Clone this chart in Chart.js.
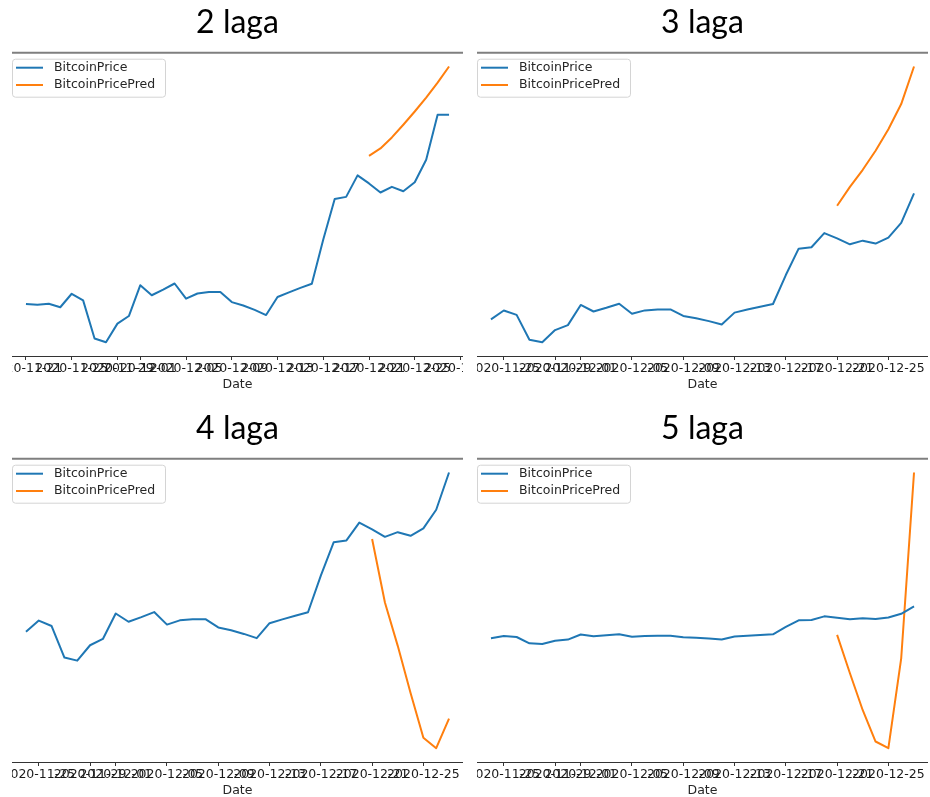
<!DOCTYPE html>
<html>
<head>
<meta charset="utf-8">
<script src="https://cdn.jsdelivr.net/npm/chart.js@4.4.1/dist/chart.umd.min.js"></script>
<style>
html, body { margin: 0; padding: 0; background: #fff; overflow: hidden; }
.panel { position: absolute; width: 451px; height: 392px; }
</style>
</head>
<body>
<div class="panel" style="left:12px;top:0px"><canvas id="lag2"></canvas></div>
<div class="panel" style="left:477px;top:0px"><canvas id="lag3"></canvas></div>
<div class="panel" style="left:12px;top:406px"><canvas id="lag4"></canvas></div>
<div class="panel" style="left:477px;top:406px"><canvas id="lag5"></canvas></div>
<script>
const dates = [
    '2020-11-21', '2020-11-22', '2020-11-23', '2020-11-24', '2020-11-25', '2020-11-26',
    '2020-11-27', '2020-11-28', '2020-11-29', '2020-11-30', '2020-12-01', '2020-12-02',
    '2020-12-03', '2020-12-04', '2020-12-05', '2020-12-06', '2020-12-07', '2020-12-08',
    '2020-12-09', '2020-12-10', '2020-12-11', '2020-12-12', '2020-12-13', '2020-12-14',
    '2020-12-15', '2020-12-16', '2020-12-17', '2020-12-18', '2020-12-19', '2020-12-20',
    '2020-12-21', '2020-12-22', '2020-12-23', '2020-12-24', '2020-12-25', '2020-12-26',
    '2020-12-27', '2020-12-28'
];
const bitcoinPrice = [
    18560, 18530, 18570, 18430, 18980, 18710,
    17150, 17000, 17760, 18070, 19330, 18920,
    19150, 19400, 18780, 18990, 19050, 19050,
    18640, 18500, 18320, 18110, 18850, 19040,
    19220, 19390, 21200, 22850, 22940, 23820,
    23490, 23120, 23350, 23170, 23540, 24460,
    26300, 26300
];

const predDates = ['2020-12-21', '2020-12-22', '2020-12-23', '2020-12-24', '2020-12-25', '2020-12-26', '2020-12-27', '2020-12-28'];
const pred2 = [24620, 24920, 25370, 25890, 26430, 27000, 27610, 28270];
const pred3 = [25530, 26710, 27780, 28970, 30320, 31890, 34240];
const pred4 = [23010, 19870, 17730, 15400, 13190, 12670, 14130];
const pred5 = [19230, 9730, 580, -7160, -8820, 13440, 59440];

const ticks2 = ['2020-11-21', '2020-11-25', '2020-11-29', '2020-12-01', '2020-12-05', '2020-12-09',
    '2020-12-13', '2020-12-17', '2020-12-21', '2020-12-25', '2020-12-29'];
const ticksRest = ['2020-11-25', '2020-11-29', '2020-12-01', '2020-12-05', '2020-12-09',
    '2020-12-13', '2020-12-17', '2020-12-21', '2020-12-25'];

const BLUE = '#1f77b4';
const ORANGE = '#ff7f0e';

Chart.defaults.font.family = '"DejaVu Sans", sans-serif';
Chart.defaults.color = '#262626';

function dayOffset(d, start) {
    return (Date.parse(d) - Date.parse(start)) / 86400000;
}

// grey line across the top of the axes
const topSpine = {
    id: 'topSpine',
    afterDraw(chart) {
        const a = chart.chartArea;
        const ctx = chart.ctx;
        ctx.save();
        ctx.strokeStyle = '#7f7f7f';
        ctx.lineWidth = 2;
        ctx.beginPath();
        ctx.moveTo(a.left, a.top);
        ctx.lineTo(a.right, a.top);
        ctx.stroke();
        ctx.restore();
    }
};

// matplotlib style legend inside the axes, upper left
const boxLegend = {
    id: 'boxLegend',
    afterDraw(chart) {
        const a = chart.chartArea;
        const ctx = chart.ctx;
        ctx.save();
        ctx.fillStyle = 'rgba(255,255,255,0.85)';
        ctx.strokeStyle = '#d4d4d4';
        ctx.lineWidth = 1;
        ctx.beginPath();
        ctx.roundRect(a.left + 0.5, a.top + 6.5, 153, 38, 3);
        ctx.fill();
        ctx.stroke();
        ctx.font = '12.5px "DejaVu Sans"';
        ctx.textBaseline = 'middle';
        chart.data.datasets.forEach((ds, i) => {
            const ly = a.top + 15 + i * 17.3;
            ctx.strokeStyle = ds.borderColor;
            ctx.lineWidth = 2;
            ctx.beginPath();
            ctx.moveTo(a.left + 4, ly);
            ctx.lineTo(a.left + 31, ly);
            ctx.stroke();
            ctx.fillStyle = '#262626';
            ctx.fillText(ds.label, a.left + 42, ly);
        });
        ctx.restore();
    }
};

function construirGrafico(id, titulo, priceDates, prices, preds, tickLabels, margin) {
    const start = priceDates[0];
    const last = dayOffset(priceDates[priceDates.length - 1], start);
    const tickVals = tickLabels.map(d => dayOffset(d, start));

    new Chart(document.getElementById(id), {
        type: 'line',
        data: {
            datasets: [{
                label: 'BitcoinPrice',
                data: prices.map((v, i) => ({ x: dayOffset(priceDates[i], start), y: v })),
                borderColor: BLUE,
                borderWidth: 2,
                pointRadius: 0,
                tension: 0,
                borderJoinStyle: 'round'
            }, {
                label: 'BitcoinPricePred',
                data: preds.map((v, i) => ({ x: dayOffset(predDates[i], start), y: v })),
                borderColor: ORANGE,
                borderWidth: 2,
                pointRadius: 0,
                tension: 0,
                borderJoinStyle: 'round'
            }]
        },
        options: {
            responsive: true,
            maintainAspectRatio: false,
            animation: false,
            layout: { padding: 0, autoPadding: false },
            plugins: {
                legend: { display: false },
                tooltip: { enabled: false },
                title: {
                    display: true,
                    text: titulo,
                    color: '#000',
                    font: { family: 'Lato', size: 32, weight: 'normal' },
                    padding: { top: 3.5, bottom: 10.8 }
                }
            },
            scales: {
                x: {
                    type: 'linear',
                    min: -margin,
                    max: last + margin,
                    afterBuildTicks: axis => {
                        axis.ticks = tickVals.map(v => ({ value: v }));
                    },
                    // let the date labels run off the edges like the original
                    afterFit: axis => {
                        axis.paddingLeft = 0;
                        axis.paddingRight = 0;
                    },
                    ticks: {
                        autoSkip: false,
                        maxRotation: 0,
                        minRotation: 0,
                        padding: 1,
                        color: '#1a1a1a',
                        font: { size: 12.5 },
                        callback: (value, index) => tickLabels[index]
                    },
                    grid: {
                        drawOnChartArea: false,
                        drawTicks: true,
                        tickLength: 4,
                        tickColor: '#333'
                    },
                    border: { display: true, color: '#333', width: 1 },
                    title: {
                        display: true,
                        text: 'Date',
                        color: '#262626',
                        font: { size: 12.5 },
                        padding: 0
                    }
                },
                y: {
                    display: false,
                    bounds: 'data',
                    afterDataLimits: s => {
                        const r = s.max - s.min;
                        s.min -= r * 0.05;
                        s.max += r * 0.05;
                    }
                }
            }
        },
        plugins: [topSpine, boxLegend]
    });
}

const shortDates = dates.slice(3, 37);
const shortPrice = bitcoinPrice.slice(3, 37);

construirGrafico('lag2', '2 laga', dates, bitcoinPrice, pred2, ticks2, 1.22);
construirGrafico('lag3', '3 laga', shortDates, shortPrice, pred3, ticksRest, 1.09);
construirGrafico('lag4', '4 laga', shortDates, shortPrice, pred4, ticksRest, 1.09);
construirGrafico('lag5', '5 laga', shortDates, shortPrice, pred5, ticksRest, 1.09);
</script>
</body>
</html>
